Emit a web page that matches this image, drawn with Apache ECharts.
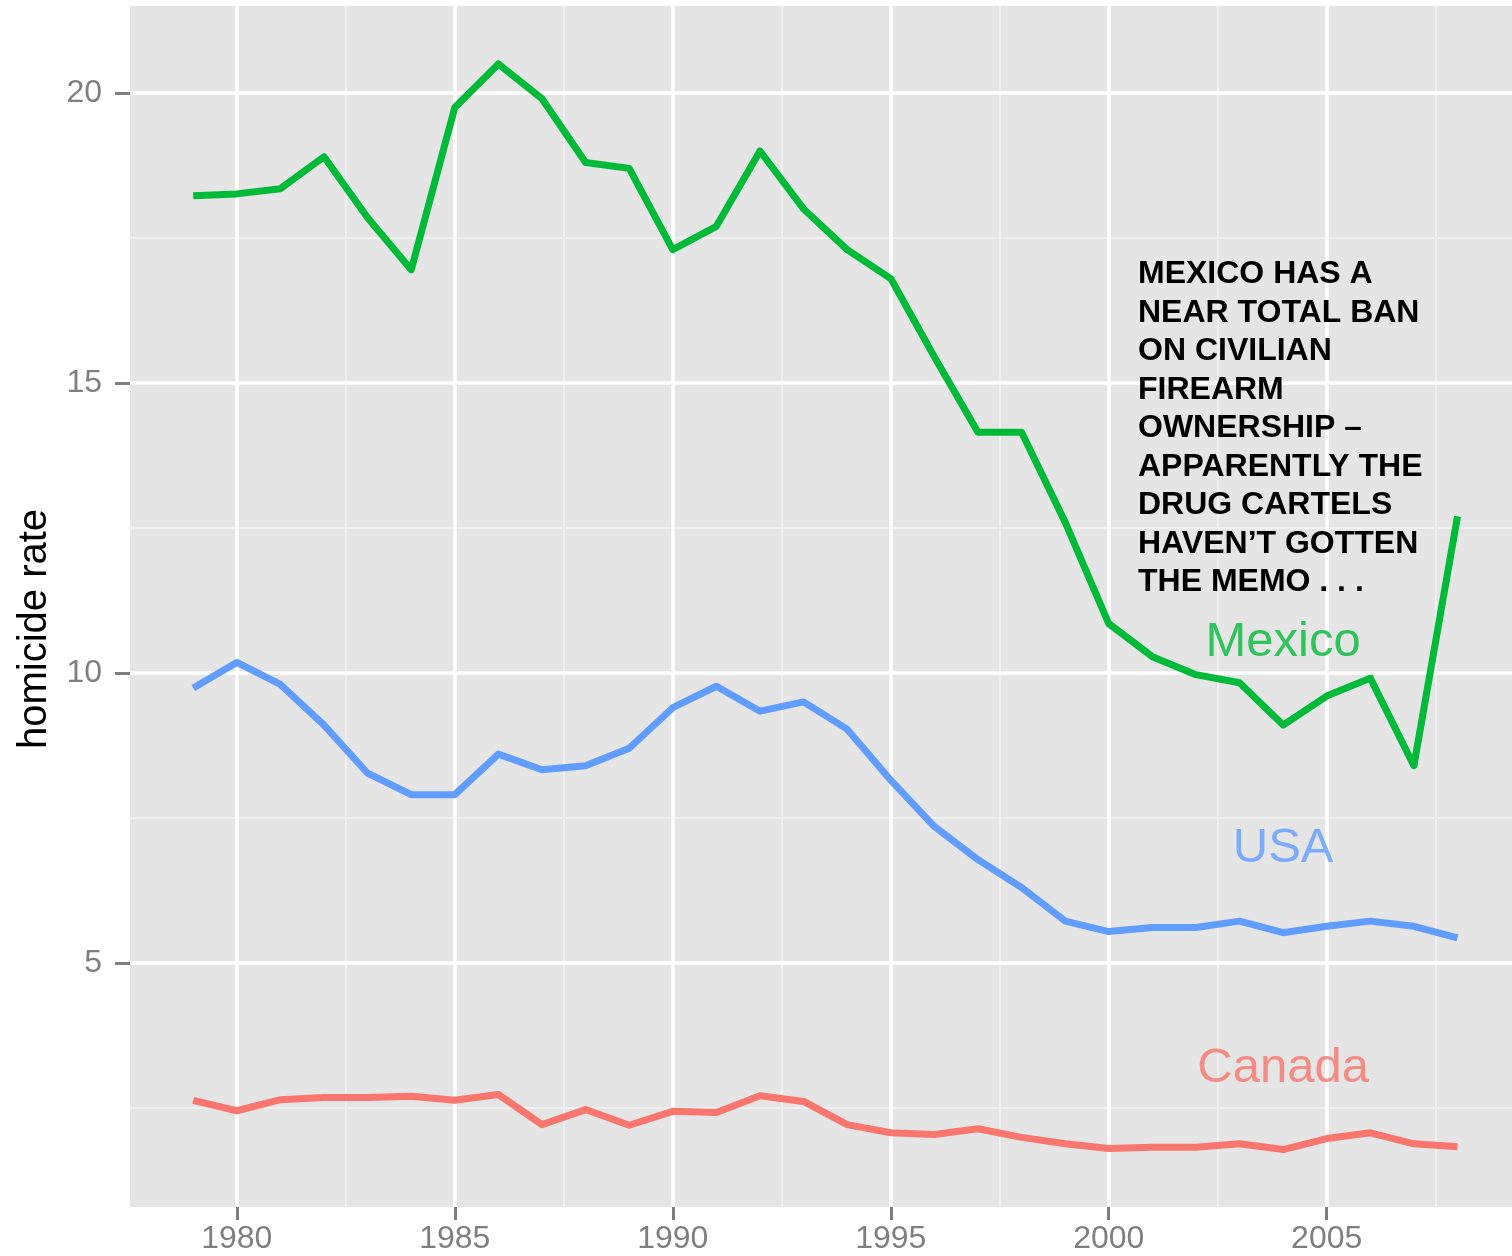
<!DOCTYPE html>
<html>
<head>
<meta charset="utf-8">
<script src="https://cdn.jsdelivr.net/npm/echarts@6/dist/echarts.min.js"></script>
<style>
  html, body { margin: 0; padding: 0; background: #ffffff; }
  #chart { width: 1512px; height: 1256px; }
</style>
</head>
<body>
<div id="chart"></div>
<script>
// homicide rate per year
const years = [1979, 1980, 1981, 1982, 1983, 1984, 1985, 1986, 1987, 1988, 1989, 1990, 1991, 1992, 1993,
  1994, 1995, 1996, 1997, 1998, 1999, 2000, 2001, 2002, 2003, 2004, 2005, 2006, 2007, 2008];
const mexico = [18.23, 18.26, 18.35, 18.9, 17.85, 16.95, 19.75, 20.5, 19.9, 18.8, 18.7, 17.3, 17.7, 19.0, 18.0,
  17.3, 16.8, 15.45, 14.15, 14.15, 12.6, 10.85, 10.28, 9.97, 9.83, 9.1, 9.6, 9.91, 8.4, 12.7];
const usa = [9.74, 10.18, 9.8, 9.1, 8.27, 7.9, 7.9, 8.6, 8.33, 8.4, 8.7, 9.4, 9.77, 9.34, 9.5,
  9.03, 8.15, 7.35, 6.78, 6.3, 5.72, 5.54, 5.61, 5.61, 5.72, 5.52, 5.63, 5.72, 5.63, 5.43];
const canada = [2.63, 2.45, 2.64, 2.68, 2.68, 2.7, 2.63, 2.73, 2.21, 2.47, 2.2, 2.44, 2.42, 2.71, 2.61,
  2.21, 2.07, 2.04, 2.14, 1.99, 1.88, 1.8, 1.82, 1.82, 1.88, 1.78, 1.97, 2.07, 1.88, 1.83];

const xTicks = [1980, 1985, 1990, 1995, 2000, 2005];
const xMinor = [1977.5, 1982.5, 1987.5, 1992.5, 1997.5, 2002.5, 2007.5];
const yTicks = [5, 10, 15, 20];
const yMinor = [2.5, 7.5, 12.5, 17.5];

// direct series labels (annotate positions)
const labelNames = ["Mexico", "USA", "Canada"];
const labelX = [2004, 2004, 2004];
const labelY = [10.52, 6.97, 3.18];

const note = "MEXICO HAS A\nNEAR TOTAL BAN\nON CIVILIAN\nFIREARM\nOWNERSHIP \u2013\nAPPARENTLY THE\nDRUG CARTELS\nHAVEN\u2019T GOTTEN\nTHE MEMO . . .";

const colors = { Mexico: "#00BA38", USA: "#619CFF", Canada: "#F8766D" };
const font = "Liberation Sans, Arial, Helvetica, sans-serif";

const chart = echarts.init(document.getElementById("chart"), null, { renderer: "canvas" });

const pairs = (vals) => years.map((y, i) => [y, vals[i]]);

const gridLines = [
  ...xMinor.map((v) => ({ xAxis: v, lineStyle: { color: "#f0f0f0", width: 2 } })),
  ...yMinor.map((v) => ({ yAxis: v, lineStyle: { color: "#f0f0f0", width: 2 } })),
  ...xTicks.map((v) => ({ xAxis: v, lineStyle: { color: "#ffffff", width: 3.5 } })),
  ...yTicks.map((v) => ({ yAxis: v, lineStyle: { color: "#ffffff", width: 3.5 } }))
];

const lineSeries = (name, vals) => ({
  name: name,
  type: "line",
  data: pairs(vals),
  showSymbol: false,
  symbol: "none",
  z: 5,
  lineStyle: { color: colors[name], width: 7, cap: "butt", join: "round" }
});

chart.setOption({
  animation: false,
  backgroundColor: "#ffffff",
  grid: {
    left: 130, right: 0, top: 6, bottom: 49,
    show: true, backgroundColor: "#e5e5e5", borderWidth: 0
  },
  xAxis: {
    type: "value",
    min: 1977.55,
    max: 2009.25,
    axisLine: { show: false },
    splitLine: { show: false },
    axisTick: { show: true, customValues: xTicks, length: 13, lineStyle: { color: "#7f7f7f", width: 3 } },
    axisLabel: {
      customValues: xTicks, color: "#7f7f7f", fontSize: 32, fontFamily: font, margin: 16,
      formatter: (v) => String(v)
    }
  },
  yAxis: {
    type: "value",
    min: 0.79,
    max: 21.5,
    axisLine: { show: false },
    splitLine: { show: false },
    axisTick: { show: true, customValues: yTicks, length: 15, lineStyle: { color: "#7f7f7f", width: 3 } },
    axisLabel: { customValues: yTicks, color: "#7f7f7f", fontSize: 32, fontFamily: font, margin: 28 }
  },
  graphic: [
    {
      type: "text",
      x: 35, y: 629,
      rotation: Math.PI / 2,
      style: {
        text: "homicide rate", fill: "#000000",
        font: "40px " + font, textAlign: "center", textVerticalAlign: "middle"
      }
    },
    {
      type: "text",
      left: 1138, top: 255, z: 10,
      style: {
        text: note, fill: "#000000",
        font: "bold 32px " + font, lineHeight: 38.5
      }
    }
  ],
  series: [
    {
      type: "line",
      data: [],
      z: 1,
      silent: true,
      markLine: {
        silent: true,
        symbol: ["none", "none"],
        label: { show: false },
        lineStyle: { type: "solid" },
        data: gridLines
      }
    },
    lineSeries("Canada", canada),
    lineSeries("USA", usa),
    lineSeries("Mexico", mexico),
    {
      type: "scatter",
      symbolSize: 0,
      z: 6,
      data: labelNames.map((n, i) => ({
        value: [labelX[i], labelY[i]],
        name: n,
        label: {
          show: true, position: "inside", formatter: n,
          color: colors[n], fontSize: 49, fontFamily: font
        }
      }))
    }
  ]
});
</script>
</body>
</html>
